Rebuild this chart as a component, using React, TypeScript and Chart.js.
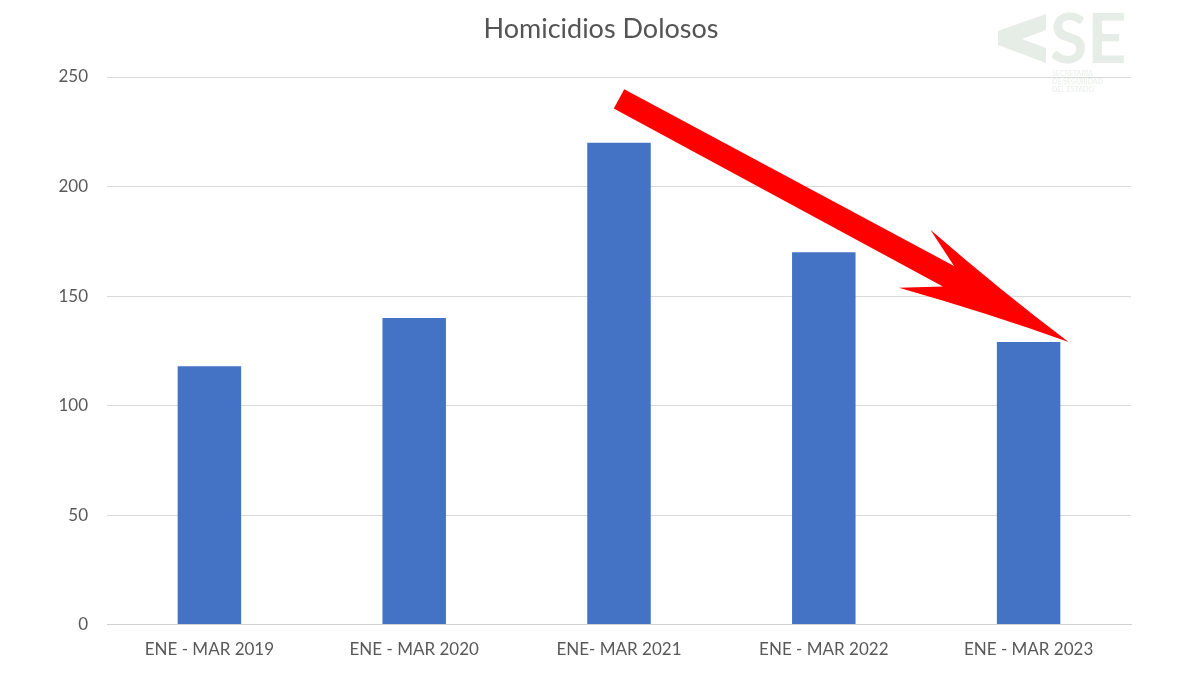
import React, { useEffect, useRef } from "react";
import { Chart, registerables } from "chart.js";

Chart.register(...registerables);

const TITLE = "Homicidios Dolosos";
const CATEGORIES = ["ENE - MAR 2019", "ENE - MAR 2020", "ENE- MAR 2021", "ENE - MAR 2022", "ENE - MAR 2023"];
const VALUES = [118, 140, 220, 170, 129];
const Y_TICKS = [0, 50, 100, 150, 200, 250];
const ARROW_FROM = { index: 2, value: 240 };
const ARROW_TO = { index: 4, value: 129 };
const LOGO_TEXT = "SE";
const LOGO_SUB = ["SECRETARÍA", "DE SEGURIDAD", "DEL ESTADO"];

const FONT = "Lato, 'Open Sans', sans-serif";

const decorPlugin = {
  id: "decor",
  afterDraw(chart: any) {
    const ctx = chart.ctx as CanvasRenderingContext2D;
    const xs = chart.scales.x;
    const ys = chart.scales.y;
    // Title
    ctx.save();
    ctx.fillStyle = "#545454";
    ctx.font = `27px ${FONT}`;
    ctx.textAlign = "center";
    ctx.textBaseline = "middle";
    ctx.fillText(TITLE, 601, 29);
    ctx.restore();

    // Watermark logo
    ctx.save();
    ctx.fillStyle = "#e6ece6";
    ctx.beginPath();
    ctx.moveTo(1046, 14);
    ctx.lineTo(1046, 30);
    ctx.lineTo(1022, 39);
    ctx.lineTo(1046, 48);
    ctx.lineTo(1046, 63);
    ctx.lineTo(998, 45);
    ctx.lineTo(998, 31);
    ctx.closePath();
    ctx.fill();
    ctx.font = `bold 68px ${FONT}`;
    ctx.textAlign = "left";
    ctx.textBaseline = "alphabetic";
    ctx.fillText(LOGO_TEXT, 1050, 63);
    ctx.fillStyle = "#eef2ee";
    ctx.font = `bold 7px ${FONT}`;
    LOGO_SUB.forEach((t, i) => ctx.fillText(t, 1052, 76 + i * 8));
    ctx.restore();

    // Red arrow
    const x0 = xs.getPixelForValue(ARROW_FROM.index);
    const y0 = ys.getPixelForValue(ARROW_FROM.value);
    const x1 = xs.getPixelForValue(ARROW_TO.index) + 40;
    const y1 = ys.getPixelForValue(ARROW_TO.value);
    const dx = x1 - x0;
    const dy = y1 - y0;
    const L = Math.hypot(dx, dy);
    const ux = dx / L;
    const uy = dy / L;
    const px = -uy;
    const py = ux;
    const pt = (a: number, p: number) => [x0 + ux * a + px * p, y0 + uy * a + py * p];
    const hw = 11;
    const junction = L - 137;
    const barb = L - 175;
    const bw = 33;
    ctx.save();
    ctx.fillStyle = "#ff0000";
    ctx.beginPath();
    let p = pt(0, -hw); ctx.moveTo(p[0], p[1]);
    p = pt(junction, -12.5); ctx.lineTo(p[0], p[1]);
    p = pt(barb, -bw); ctx.lineTo(p[0], p[1]);
    let c = pt((barb + L) / 2 + 5, -bw / 2 + 4);
    p = pt(L, 0); ctx.quadraticCurveTo(c[0], c[1], p[0], p[1]);
    c = pt((barb + L) / 2 + 5, bw / 2 - 4);
    p = pt(barb, bw); ctx.quadraticCurveTo(c[0], c[1], p[0], p[1]);
    p = pt(junction, 11); ctx.lineTo(p[0], p[1]);
    p = pt(0, hw); ctx.lineTo(p[0], p[1]);
    ctx.closePath();
    ctx.fill();
    ctx.restore();
  },
};

export default function App() {
  const ref = useRef<HTMLCanvasElement | null>(null);
  useEffect(() => {
    if (!ref.current) return;
    const chart = new Chart(ref.current, {
      type: "bar",
      data: {
        labels: CATEGORIES,
        datasets: [
          {
            data: VALUES,
            backgroundColor: "#4472c4",
            categoryPercentage: 1,
            barPercentage: 0.31,
          },
        ],
      },
      options: {
        animation: false,
        responsive: false,
        devicePixelRatio: 1,
        layout: { padding: { top: 77, right: 69, bottom: 0, left: 0 } },
        plugins: { legend: { display: false }, tooltip: { enabled: false }, title: { display: false } },
        scales: {
          x: {
            grid: { display: false, drawTicks: false },
            border: { display: true, color: "#d0d0d0", width: 1 },
            ticks: { color: "#595959", font: { family: FONT, size: 17 }, padding: 15, maxRotation: 0 },
          },
          y: {
            min: 0,
            max: 250,
            afterBuildTicks: (s: any) => {
              s.ticks = Y_TICKS.map((v) => ({ value: v }));
            },
            afterFit: (s: any) => {
              s.width = 107;
            },
            grid: { color: "#d9d9d9", lineWidth: 1, drawTicks: false },
            border: { display: false },
            ticks: { color: "#595959", font: { family: FONT, size: 17 }, padding: 19 },
          },
        },
      },
      plugins: [decorPlugin],
    });
    return () => chart.destroy();
  }, []);
  return (
    <div style={{ position: "absolute", left: 0, top: 0, width: 1200, height: 675, background: "#fff" }}>
      <canvas ref={ref} width={1200} height={675} style={{ width: 1200, height: 675 }} />
    </div>
  );
}
